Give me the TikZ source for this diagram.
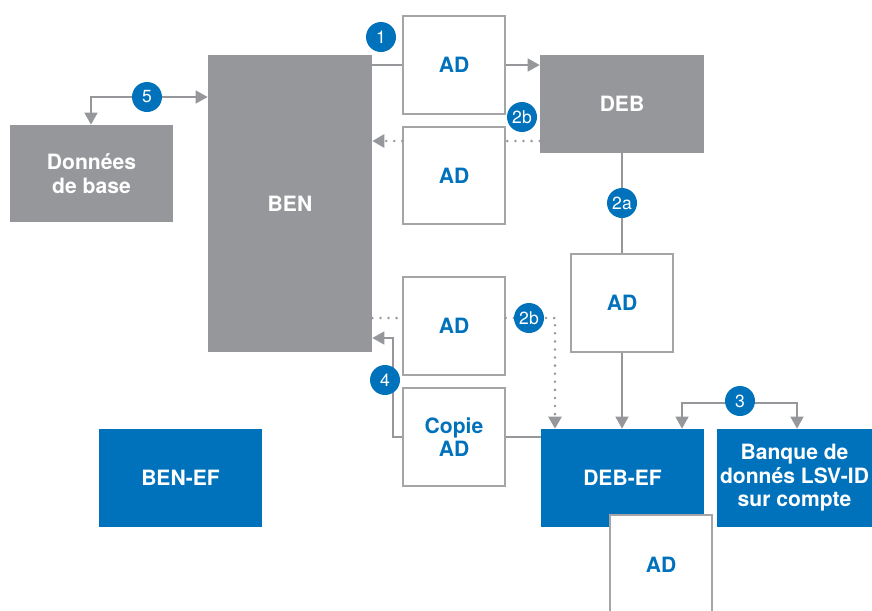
\documentclass[tikz,border=0pt]{standalone}
\usepackage{fontspec}
\setmainfont{TeX Gyre Heros}
\usetikzlibrary{arrows.meta}

\definecolor{bengray}{RGB}{150,151,155}
\definecolor{linegray}{RGB}{150,151,155}
\definecolor{boxgray}{RGB}{165,165,168}
\definecolor{adblue}{RGB}{0,114,188}

\begin{document}
\begin{tikzpicture}[
  x=0.02cm, y=-0.02cm,
  txt/.style={font=\bfseries\fontsize{12}{13.4}\selectfont,align=center,inner sep=0pt},
  grey/.style={txt,fill=bengray,text=white},
  blue/.style={txt,fill=adblue,text=white},
  ad/.style={txt,draw=boxgray,line width=0.75pt,fill=white,text=adblue,
    minimum width=2.04cm,minimum height=1.96cm},
  num/.style={circle,fill=adblue,text=white,minimum size=0.6cm,inner sep=0pt,
    font=\fontsize{10}{11}\selectfont},
  ln/.style={draw=linegray,line width=0.85pt},
  ar/.style={ln,-{Triangle[length=2.4mm,width=2.6mm]}},
  arb/.style={ln,{Triangle[length=2.4mm,width=2.6mm]}-{Triangle[length=2.4mm,width=2.6mm]}},
  dots/.style={draw=linegray,line width=1.6pt,line cap=round,dash pattern=on 0pt off 4.6pt}]

 \useasboundingbox (0,0) rectangle (872,610);

 % ---- grey blocks ----
 \node[grey,minimum width=3.28cm,minimum height=5.94cm] (ben) at (290,203.5) {BEN};
 \node[grey,minimum width=3.26cm,minimum height=1.94cm] (base) at (91.5,173.5) {Données\\de base};
 \node[grey,minimum width=3.28cm,minimum height=1.96cm] (deb) at (622,104) {DEB};

 % ---- blue blocks ----
 \node[blue,minimum width=3.26cm,minimum height=1.96cm] (benef) at (180.5,478) {BEN-EF};
 \node[blue,minimum width=3.26cm,minimum height=1.96cm] (debef) at (622.5,478) {DEB-EF};
 \node[blue,minimum width=3.1cm,minimum height=1.96cm] (banque) at (794.5,478) {Banque de\\donnés LSV-ID\\sur compte};

 % ---- AD boxes ----
 \node[ad] (adA) at (454,65) {AD};
 \node[ad,minimum height=1.94cm] (adB) at (454,175.5) {AD};
 \node[ad] (adC) at (622,303) {AD};
 \node[ad] (adD) at (454,326) {AD};
 \node[ad] (copie) at (454,437) {Copie\\AD};
 \node[ad,minimum height=2.0cm] (adE) at (661,565) {AD};

 % ---- helper points ----
 \coordinate (k2b) at (540,141);
 \coordinate (k2c) at (555,318);
 \coordinate (k3a) at (682,403);
 \coordinate (k3b) at (797,403);
 \coordinate (k4a) at (393,338);
 \coordinate (k4b) at (393,437);
 \coordinate (k5) at (91,97);

 % ---- connectors ----
 \draw[ln] (ben.east |- adA) -- (adA.west);
 \draw[ar] (adA.east) -- (deb.west |- adA);
 \draw[dots] (deb.west |- k2b) -- (adB.east |- k2b);
 \draw[dots,-{Triangle[length=2.4mm,width=2.6mm]}] (adB.west |- k2b) -- (ben.east |- k2b);
 \draw[ln] (deb.south) -- (adC.north);
 \draw[ar] (adC.south) -- (adC.south |- debef.north);
 \draw[dots] (ben.east |- k2c) -- (adD.west |- k2c);
 \draw[dots,-{Triangle[length=2.4mm,width=2.6mm]}] (adD.east |- k2c) -- (k2c) -- (k2c |- debef.north);
 \draw[arb] (k3a |- debef.north) -- (k3a) -- (k3b) -- (k3b |- banque.north);
 \draw[ln] (debef.west |- k4b) -- (copie.east |- k4b);
 \draw[ar] (copie.west |- k4b) -- (k4b) -- (k4a) -- (ben.east |- k4a);
 \draw[arb] (ben.west |- k5) -- (k5) -- (base.north -| k5);

 % ---- numbers ----
 \node[num] (n1) at (381,37) {1};
 \node[num] (n2b) at (522,117) {2b};
 \node[num] (n2a) at (622,203) {2a};
 \node[num] (n2c) at (529,318) {2b};
 \node[num] (n3) at (740,401) {3};
 \node[num] (n4) at (385,380) {4};
 \node[num] (n5) at (147,97) {5};
\end{tikzpicture}
\end{document}
